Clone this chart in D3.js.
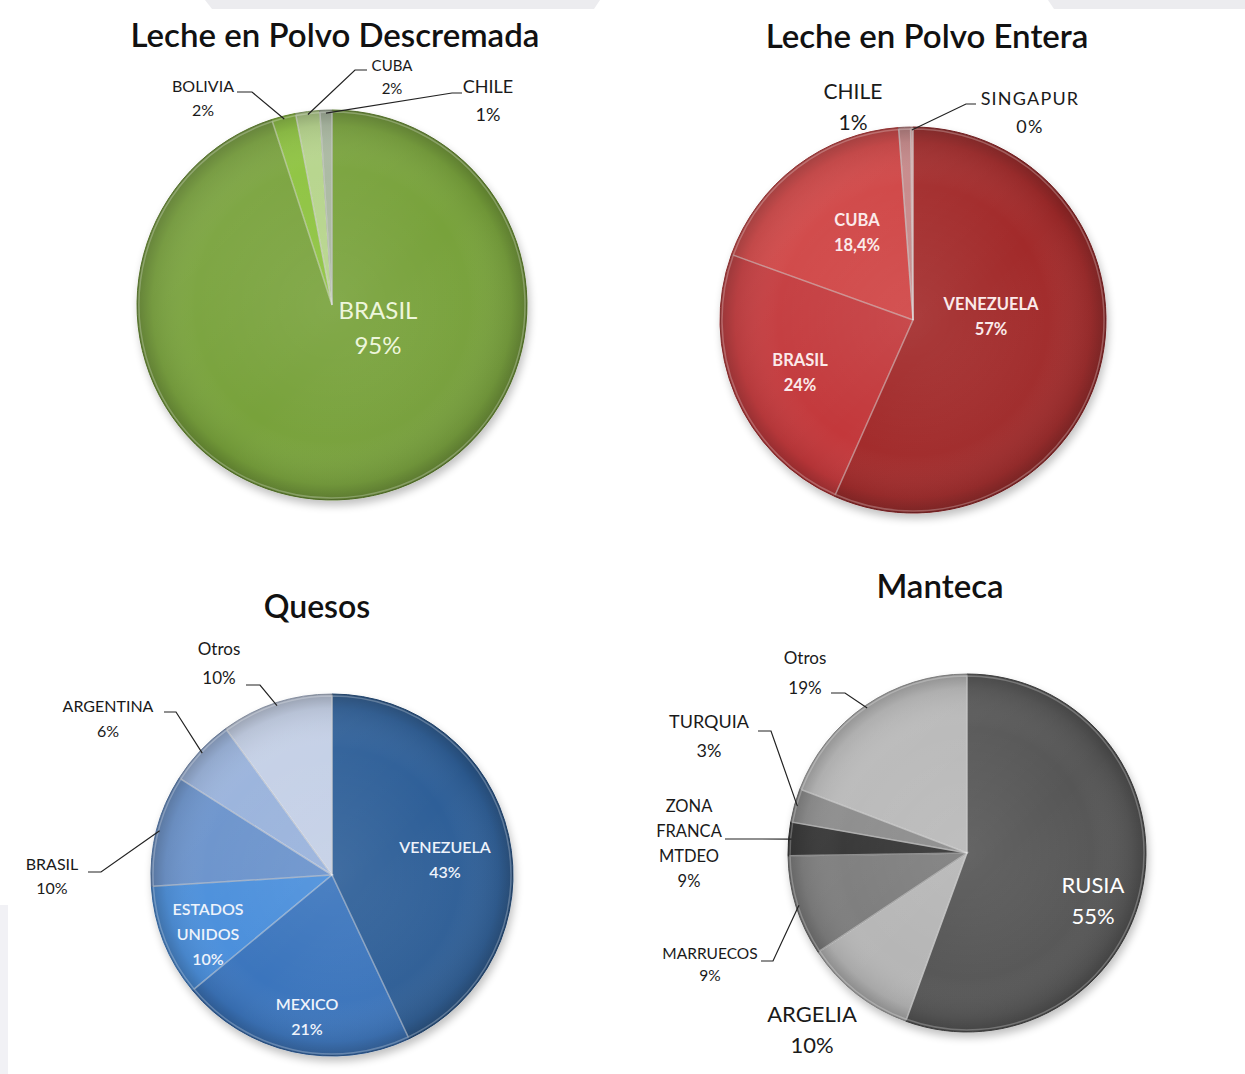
<!DOCTYPE html>
<html><head><meta charset="utf-8">
<script src="https://cdn.jsdelivr.net/npm/d3@7"></script>
<style>body{margin:0;background:#fff}svg{display:block}</style>
</head><body><svg id="c" width="1245" height="1074"></svg>
<script>
// ---------- DATA ----------
const descCategories = ["BRASIL", "BOLIVIA", "CUBA", "CHILE"];
const descValues = [95, 2, 2, 1];
const descPct = ["95%", "2%", "2%", "1%"];

const enteraCategories = ["VENEZUELA", "BRASIL", "CUBA", "CHILE", "SINGAPUR"];
const enteraValues = [57, 24, 18.4, 1, 0.2];
const enteraPct = ["57%", "24%", "18,4%", "1%", "0%"];

const quesosCategories = ["VENEZUELA", "MEXICO", "ESTADOS\nUNIDOS", "BRASIL", "ARGENTINA", "Otros"];
const quesosValues = [43, 21, 10, 10, 6, 10];
const quesosPct = ["43%", "21%", "10%", "10%", "6%", "10%"];

const mantecaCategories = ["RUSIA", "ARGELIA", "MARRUECOS", "ZONA\nFRANCA\nMTDEO", "TURQUIA", "Otros"];
const mantecaValues = [55, 10, 9, 3, 3, 19];
const mantecaPct = ["55%", "10%", "9%", "9%", "3%", "19%"];

const titles = ["Leche en Polvo Descremada", "Leche en Polvo Entera", "Quesos", "Manteca"];

// ---------- LAYOUT / STYLE ----------
const charts = [
  { title: titles[0], cats: descCategories, vals: descValues, pct: descPct,
    colors: ["#78a23a", "#8cc23c", "#b5d48a", "#a9b8a0"],
    cx: 332, cy: 305, r: 195, tx: 335, ty: 47, tsize: 33,
    labels: [
      { mode: "in", x: 378, y: 310, size: 24, lh: 35, fill: "#eef6dc", weight: 400 },
      { mode: "out", x: 203, y: 86, size: 16, lh: 24, lead: [237, 92, 252] },
      { mode: "out", x: 392, y: 66, size: 15, lh: 23, lead: [367, 70, 355] },
      { mode: "out", x: 488, y: 87, size: 18, lh: 28, lead: [462, 93, 452] }
    ] },
  { title: titles[1], cats: enteraCategories, vals: enteraValues, pct: enteraPct,
    colors: ["#a22a2c", "#c3393a", "#cf4242", "#c68788", "#dba3a3"],
    cx: 913, cy: 320, r: 193, tx: 927, ty: 48, tsize: 33,
    labels: [
      { mode: "in", x: 991, y: 304, size: 16.5, lh: 25, fill: "#fbeaea", weight: 700 },
      { mode: "in", x: 800, y: 360, size: 16.5, lh: 25, fill: "#fbeaea", weight: 700 },
      { mode: "in", x: 857, y: 220, size: 16.5, lh: 25, fill: "#fbeaea", weight: 700 },
      { mode: "out", x: 853, y: 91, size: 21, lh: 31, weight: 400 },
      { mode: "out", x: 1030, y: 99, size: 18, lh: 28, lead: [976, 104, 966], spacing: 1.2 }
    ] },
  { title: titles[2], cats: quesosCategories, vals: quesosValues, pct: quesosPct,
    colors: ["#2d5e98", "#3a74bd", "#4a8edb", "#6791cb", "#97b1db", "#c3cfe6"],
    cx: 332, cy: 875, r: 181, tx: 317, ty: 618, tsize: 32,
    labels: [
      { mode: "in", x: 445, y: 847, size: 16, lh: 25, fill: "#eef3fb", weight: 600 },
      { mode: "in", x: 307, y: 1004, size: 16, lh: 25, fill: "#eef3fb", weight: 600 },
      { mode: "in", x: 208, y: 909, size: 16, lh: 25, fill: "#eef3fb", weight: 600 },
      { mode: "out", x: 52, y: 864, size: 16, lh: 24, lead: [88, 872, 101] },
      { mode: "out", x: 108, y: 706, size: 16, lh: 25, lead: [164, 712, 176] },
      { mode: "out", x: 219, y: 649, size: 17, lh: 29, lead: [246, 685, 260] }
    ] },
  { title: titles[3], cats: mantecaCategories, vals: mantecaValues, pct: mantecaPct,
    colors: ["#565656", "#b6b6b6", "#7c7c7c", "#333333", "#8a8a8a", "#b8b8b8"],
    cx: 967, cy: 853, r: 179, tx: 940, ty: 598, tsize: 33,
    labels: [
      { mode: "in", x: 1093, y: 885, size: 22, lh: 31, fill: "#ffffff", weight: 400 },
      { mode: "out", x: 812, y: 1014, size: 22, lh: 31, weight: 400 },
      { mode: "out", x: 710, y: 953, size: 15.5, lh: 22, lead: [761, 961, 773] },
      { mode: "out", x: 689, y: 806, size: 16.5, lh: 25, lead: [725, 839, 745] },
      { mode: "out", x: 709, y: 722, size: 18, lh: 29, lead: [758, 731, 771] },
      { mode: "out", x: 805, y: 658, size: 17, lh: 30, lead: [831, 693, 845] }
    ] }
];

const FONT = "Lato, 'Open Sans', sans-serif";
const svg = d3.select("#c");
const defs = svg.append("defs");

// background slide decorations
svg.append("path").attr("d", "M205,0 L600,0 L594,9 L212,9 Z").attr("fill", "#ececef");
svg.append("path").attr("d", "M1048,0 L1245,0 L1245,9 L1054,9 Z").attr("fill", "#ececef");
svg.append("rect").attr("x", 0).attr("y", 905).attr("width", 8).attr("height", 169).attr("fill", "#f1f1f5");

// shading defs
const rim = defs.append("radialGradient").attr("id", "rim");
rim.append("stop").attr("offset", "0%").attr("stop-color", "#fff").attr("stop-opacity", 0.08);
rim.append("stop").attr("offset", "70%").attr("stop-color", "#fff").attr("stop-opacity", 0.0);
rim.append("stop").attr("offset", "92%").attr("stop-color", "#000").attr("stop-opacity", 0.08);
rim.append("stop").attr("offset", "100%").attr("stop-color", "#000").attr("stop-opacity", 0.25);
const hl = defs.append("linearGradient").attr("id", "hl").attr("x1", 0).attr("y1", 0).attr("x2", 1).attr("y2", 1);
hl.append("stop").attr("offset", "0%").attr("stop-color", "#fff").attr("stop-opacity", 0.10);
hl.append("stop").attr("offset", "55%").attr("stop-color", "#fff").attr("stop-opacity", 0);
hl.append("stop").attr("offset", "100%").attr("stop-color", "#000").attr("stop-opacity", 0.10);
const sh = defs.append("filter").attr("id", "shadow").attr("x", "-20%").attr("y", "-20%").attr("width", "140%").attr("height", "140%");
sh.append("feGaussianBlur").attr("in", "SourceAlpha").attr("stdDeviation", 4).attr("result", "b");
sh.append("feOffset").attr("dx", 2).attr("dy", 5).attr("result", "o");
sh.append("feComponentTransfer").append("feFuncA").attr("type", "linear").attr("slope", 0.25);
const m = sh.append("feMerge");
m.append("feMergeNode");
m.append("feMergeNode").attr("in", "SourceGraphic");

const pie = d3.pie().sort(null).value(d => d);

charts.forEach((c, ci) => {
  const arcs = pie(c.vals);
  const arc = d3.arc().innerRadius(0).outerRadius(c.r);
  const g = svg.append("g").attr("transform", `translate(${c.cx},${c.cy})`);

  // title
  svg.append("text").attr("x", c.tx).attr("y", c.ty).attr("text-anchor", "middle")
    .attr("font-family", FONT).attr("font-weight", 600).attr("font-size", c.tsize)
    .attr("fill", "#111").text(c.title);

  const pg = g.append("g").attr("filter", "url(#shadow)");
  pg.selectAll("path.slice").data(arcs).join("path").attr("class", "slice")
    .attr("d", arc).attr("fill", (d, i) => c.colors[i])
    .attr("stroke", (d, i) => d3.color(c.colors[i]).darker(0.8)).attr("stroke-width", 1);
  // overlays
  g.append("circle").attr("r", c.r).attr("fill", "url(#rim)").attr("pointer-events", "none");
  g.append("circle").attr("r", c.r).attr("fill", "url(#hl)").attr("pointer-events", "none");
  // bevel highlight
  g.selectAll("path.bevel").data(arcs).join("path").attr("class", "bevel")
    .attr("d", d3.arc().innerRadius(0).outerRadius(c.r - 2)).attr("fill", "none")
    .attr("stroke", "rgba(255,255,255,0.25)").attr("stroke-width", 1.5);

  // labels
  arcs.forEach((a, i) => {
    const L = c.labels[i];
    const lines = c.cats[i].split("\n").concat([c.pct[i]]);
    const t = svg.append("text").attr("text-anchor", "middle")
      .attr("font-family", FONT).attr("font-size", L.size)
      .attr("font-weight", L.weight || 400)
      .attr("fill", L.mode === "in" ? L.fill : "#1a1a1a")
      .attr("letter-spacing", L.spacing || 0);
    lines.forEach((ln, k) => {
      t.append("tspan").attr("x", L.x).attr("y", L.y + k * L.lh).attr("dy", "0.36em").text(ln);
    });
    if (L.lead) {
      const ang = (a.startAngle + a.endAngle) / 2;
      const px = c.cx + (c.r - 3) * Math.sin(ang);
      const py = c.cy - (c.r - 3) * Math.cos(ang);
      svg.append("path").attr("d", `M${L.lead[0]},${L.lead[1]} H${L.lead[2]} L${px},${py}`)
        .attr("fill", "none").attr("stroke", "#222").attr("stroke-width", 1.2);
    }
  });
});
</script>
</body></html>
